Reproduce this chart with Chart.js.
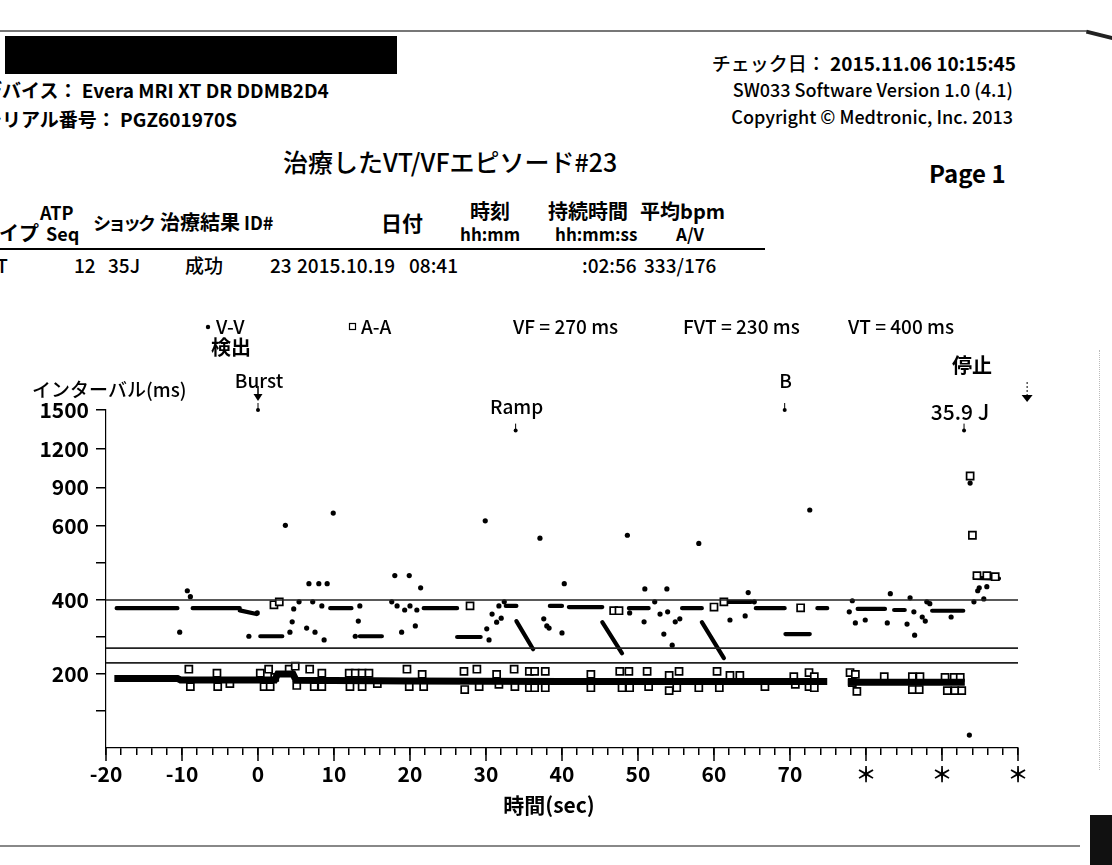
<!DOCTYPE html>
<html>
<head>
<meta charset="utf-8">
<script src="https://cdn.jsdelivr.net/npm/chart.js@4.4.1/dist/chart.umd.min.js"></script>
<style>
  body { margin: 0; background: #fff; width: 1112px; height: 865px; overflow: hidden; position: relative; font-family: 'Noto Sans CJK JP', sans-serif; color: #000; }
  .t { position: absolute; white-space: nowrap; line-height: 1; }
  .b { font-weight: 700; }
  .m { font-weight: 500; }
  #chart { position: absolute; left: 0; top: 0; }
</style>
</head>
<body>
<!-- scan edges -->
<div style="position:absolute;left:0;top:30px;width:1088px;height:2px;background:#777"></div>
<div style="position:absolute;left:1086px;top:33px;width:28px;height:4px;background:#222;transform:rotate(14deg)"></div>
<div style="position:absolute;left:0;top:845px;width:1080px;height:2px;background:#888"></div>
<div style="position:absolute;left:1090px;top:815px;width:22px;height:50px;background:#111"></div>
<div style="position:absolute;left:1099px;top:350px;width:1px;height:420px;border-left:1px dotted #bbb"></div>

<!-- header -->
<div style="position:absolute;left:5px;top:36px;width:392px;height:38px;background:#000"></div>
<div class="t b" style="left:-17px;top:80px;font-size:19px">デバイス：&nbsp;Evera MRI XT DR DDMB2D4</div>
<div class="t b" style="left:-17px;top:109px;font-size:19px">シリアル番号：&nbsp;PGZ601970S</div>
<div class="t" style="right:96px;top:53px;font-size:19px"><span class="m">チェック日：&nbsp;</span><span class="b">2015.11.06 10:15:45</span></div>
<div class="t m" style="right:99px;top:80px;font-size:18px">SW033 Software Version 1.0 (4.1)</div>
<div class="t m" style="right:99px;top:107px;font-size:18px">Copyright © Medtronic, Inc. 2013</div>
<div class="t m" style="left:283px;top:149px;font-size:25px">治療したVT/VFエピソード#23</div>
<div class="t b" style="left:929px;top:161px;font-size:24px">Page 1</div>

<!-- episode table -->
<div class="t b" style="left:-21px;top:223px;font-size:20px">タイプ</div>
<div class="t b" style="left:40px;top:203px;font-size:18px">ATP</div>
<div class="t b" style="left:46px;top:224px;font-size:18px">Seq</div>
<div class="t b" style="left:93px;top:213px;font-size:18px;letter-spacing:-3px">ショック</div>
<div class="t b" style="left:160px;top:212px;font-size:20px">治療結果</div>
<div class="t b" style="left:244px;top:213px;font-size:18px">ID#</div>
<div class="t b" style="left:381px;top:212px;font-size:21px">日付</div>
<div class="t b" style="left:470px;top:201px;font-size:20px">時刻</div>
<div class="t b" style="left:460px;top:225px;font-size:17px">hh:mm</div>
<div class="t b" style="left:548px;top:201px;font-size:20px">持続時間</div>
<div class="t b" style="left:555px;top:225px;font-size:17px">hh:mm:ss</div>
<div class="t b" style="left:640px;top:201px;font-size:20px">平均bpm</div>
<div class="t b" style="left:676px;top:225px;font-size:17px">A/V</div>
<div style="position:absolute;left:0;top:248px;width:765px;height:2px;background:#000"></div>
<div class="t m" style="left:-15px;top:255px;font-size:19px">VT</div>
<div class="t m" style="left:74px;top:255px;font-size:19px">12</div>
<div class="t m" style="left:108px;top:255px;font-size:19px">35J</div>
<div class="t m" style="left:185px;top:255px;font-size:19px">成功</div>
<div class="t m" style="left:270px;top:255px;font-size:19px">23</div>
<div class="t m" style="left:297px;top:255px;font-size:19px">2015.10.19</div>
<div class="t m" style="left:409px;top:255px;font-size:19px">08:41</div>
<div class="t m" style="left:582px;top:255px;font-size:19px">:02:56</div>
<div class="t m" style="left:644px;top:255px;font-size:19px">333/176</div>

<canvas id="chart" width="1112" height="865"></canvas>

<script>
// ---- data (time in s, interval in ms) ----
const xTickValues = [-20, -10, 0, 10, 20, 30, 40, 50, 60, 70, 80, 90, 100];
const xTickLabels = ['-20', '-10', '0', '10', '20', '30', '40', '50', '60', '70', '＊', '＊', '＊'];
const yTickValues = [100, 200, 300, 400, 500, 600, 900, 1200, 1500];
const yTickLabels = ['', '200', '', '400', '', '600', '900', '1200', '1500'];

const zoneNames = ['VF', 'FVT', 'VT'];
const zoneMs = [270, 230, 400];

// single V-V intervals
const vvPoints = [
    [-10.3, 313], [-9.3, 425], [-8.9, 409], [-1.2, 302], [-0.1, 365],
    [3.6, 605], [4.2, 313], [4.5, 341], [4.7, 376], [5.4, 395], [6.4, 324], [6.7, 444],
    [7.2, 395], [7.5, 313], [8.0, 444], [8.4, 384], [8.7, 292], [9.1, 444], [9.9, 700],
    [12.8, 302], [13.2, 343], [13.4, 384],
    [17.6, 395], [18.0, 466], [18.3, 384], [18.9, 313], [19.3, 373], [19.9, 466], [20.0, 384],
    [20.7, 330], [20.9, 373], [21.4, 433],
    [29.9, 640], [30.1, 322], [30.4, 292], [30.8, 362], [31.4, 340], [31.7, 384], [32.0, 351], [32.4, 395],
    [37.1, 567], [37.6, 349], [38.0, 330], [38.3, 324], [40.0, 311], [40.3, 444],
    [48.6, 575], [48.9, 365], [50.8, 341], [50.9, 430], [52.2, 395], [52.9, 362], [53.4, 308],
    [53.8, 430], [53.9, 368], [54.5, 278], [54.9, 341], [55.5, 349], [58.0, 553],
    [62.1, 346], [64.1, 357], [64.5, 420], [65.3, 395], [72.6, 724],
    [77.8, 368], [78.2, 398], [78.6, 338], [79.9, 346], [82.8, 338], [83.2, 417],
    [85.4, 335], [85.8, 406], [86.3, 368], [86.4, 305], [87.4, 354], [87.8, 343], [88.0, 395], [88.4, 390],
    [91.2, 354], [93.6, 35], [93.7, 933], [94.2, 395], [94.7, 425], [94.9, 433], [95.5, 403], [95.9, 436]
];

// runs of closely spaced V-V beats, [t0, ms0, t1, ms1]
const vvRuns = [
    [-18.6, 378, -10.6, 378], [-8.6, 378, -2.4, 378], [-2.4, 372, -0.2, 362], [0.3, 302, 3.2, 302],
    [9.5, 378, 12.3, 378], [13.4, 302, 16.3, 302], [21.8, 378, 26.2, 378], [26.2, 300, 29.3, 300],
    [32.6, 384, 34.0, 384], [38.4, 384, 40.0, 384], [40.9, 381, 45.3, 381], [48.8, 378, 51.4, 378],
    [55.8, 378, 58.4, 378], [61.6, 395, 64.9, 395], [65.5, 378, 69.3, 378], [69.4, 308, 72.6, 308],
    [73.6, 378, 74.9, 378], [78.9, 376, 82.5, 376], [83.7, 373, 85.1, 373], [88.7, 371, 92.8, 371],
    [94.3, 460, 97.5, 458]
];
// Ramp ATP sequences
const rampRuns = [
    [34.0, 343, 36.2, 267], [45.3, 340, 47.9, 256], [58.4, 340, 61.3, 243]
];

// dense A-A band
const aaBand = [
    [-18.9, 188], [-10.6, 188], [-10.2, 184], [2.2, 184], [2.6, 200], [4.6, 200], [5.0, 183],
    [20, 181], [40, 180], [60, 180], [74.9, 180], null,
    [77.6, 178], [93.0, 178]
];

// single A-A intervals
const aaPoints = [
    [-9.1, 213], [-8.9, 166], [-5.4, 202], [-5.3, 166], [-3.7, 174],
    [0.3, 202], [1.4, 213], [0.8, 166], [1.6, 166], [2.2, 191], [2.1, 387], [2.8, 395],
    [4.1, 213], [4.9, 221], [5.1, 169], [6.8, 213], [7.4, 166], [8.4, 166], [8.4, 202],
    [12.0, 202], [12.8, 202], [13.7, 202], [14.6, 202], [12.1, 166], [13.7, 166], [15.7, 174],
    [19.6, 213], [19.9, 166], [21.6, 199], [21.8, 166],
    [27.1, 207], [28.8, 213], [27.2, 158], [29.1, 166], [27.9, 384], [31.4, 199], [31.7, 172],
    [33.7, 213], [33.8, 166], [35.7, 207], [36.4, 207], [35.7, 163], [36.4, 163], [37.8, 207], [37.8, 163],
    [43.8, 199], [43.8, 163], [46.8, 371], [47.5, 371], [47.6, 207], [48.8, 207], [47.9, 163], [48.9, 163],
    [51.2, 207], [51.4, 166], [54.1, 196], [55.4, 207], [54.1, 155], [55.1, 163], [58.0, 163],
    [60.0, 381], [60.4, 207], [60.7, 163], [61.3, 395], [62.1, 196], [63.4, 196], [66.7, 166],
    [70.5, 193], [70.7, 172], [71.4, 379], [72.5, 204], [73.2, 193], [72.5, 166], [73.2, 163],
    [77.9, 204], [78.6, 199], [78.2, 177], [78.8, 153], [82.4, 193],
    [86.1, 193], [87.1, 193], [86.1, 158], [87.0, 158],
    [90.4, 191], [91.6, 191], [92.4, 191], [90.7, 155], [91.7, 155], [92.6, 155],
    [93.7, 988], [94.0, 575], [94.6, 466], [95.9, 466], [97.0, 463]
];

// therapy / event markers
const markerLabels = ['Burst', 'Ramp', 'B', '35.9 J'];
const markerTimes = [0, 33.9, 69.3, 92.9];
const markerMs = [1500, 1340, 1500, 1340];
const detectTime = 0;
const stopTime = 101.2;

// ---- piecewise interval axis: 0-600 ms expanded, 600-1500 ms compressed ----
const LOW_FRAC = 222 / 338;
class IntervalScale extends Chart.LinearScale {
    getPixelForValue(v) {
        if (v === null || v === undefined || isNaN(v)) return NaN;
        const d = v <= 600 ? v / 600 * LOW_FRAC : LOW_FRAC + (v - 600) / 900 * (1 - LOW_FRAC);
        return this.getPixelForDecimal(d);
    }
    getValueForPixel(p) {
        const d = this.getDecimalForPixel(p);
        return d <= LOW_FRAC ? d / LOW_FRAC * 600 : 600 + (d - LOW_FRAC) / (1 - LOW_FRAC) * 900;
    }
}
IntervalScale.id = 'interval';
IntervalScale.defaults = Chart.LinearScale.defaults;
Chart.register(IntervalScale);

const toXY = p => p ? { x: p[0], y: p[1] } : { x: NaN, y: null };
const runsToData = runs => runs.flatMap(r => [{ x: r[0], y: r[1] }, { x: r[2], y: r[3] }, { x: NaN, y: null }]);

const FONT = "'Noto Sans CJK JP', sans-serif";

const overlay = {
    id: 'overlay',
    afterDraw(chart) {
        const { ctx, chartArea } = chart;
        const x = chart.scales.x, y = chart.scales.y;
        ctx.save();
        ctx.fillStyle = '#000';
        ctx.strokeStyle = '#000';

        // long ticks every 10 s
        ctx.lineWidth = 1.5;
        xTickValues.forEach(v => {
            const px = x.getPixelForValue(v);
            ctx.beginPath();
            ctx.moveTo(px, chartArea.bottom);
            ctx.lineTo(px, chartArea.bottom + 13);
            ctx.stroke();
        });

        const text = (s, px, py, size, weight, align) => {
            ctx.font = `${weight} ${size}px ${FONT}`;
            ctx.textAlign = align || 'left';
            ctx.textBaseline = 'alphabetic';
            ctx.fillText(s, px, py);
        };

        // legend row
        ctx.beginPath();
        ctx.arc(208, 327, 2.2, 0, Math.PI * 2);
        ctx.fill();
        text('V-V', 216, 334, 19, 500);
        ctx.lineWidth = 1.2;
        ctx.strokeRect(349.5, 323.5, 6, 6);
        text('A-A', 361, 334, 19, 500);
        const zoneLeft = [513, 683, 848];
        zoneNames.forEach((n, i) => text(`${n} = ${zoneMs[i]} ms`, zoneLeft[i], 334, 19, 500));

        // axis titles
        text('インターバル(ms)', 32, 397, 19, 500);
        text('時間(sec)', 549, 813, 21, 700, 'center');

        // detection
        const dx = x.getPixelForValue(detectTime);
        text('検出', dx - 47, 355, 20, 700);
        ctx.lineWidth = 1.5;
        ctx.beginPath();
        ctx.moveTo(dx, 386);
        ctx.lineTo(dx, 396);
        ctx.stroke();
        ctx.beginPath();
        ctx.moveTo(dx - 4.5, 394);
        ctx.lineTo(dx + 4.5, 394);
        ctx.lineTo(dx, 401);
        ctx.closePath();
        ctx.fill();

        // therapy markers
        markerLabels.forEach((lab, i) => {
            const px = x.getPixelForValue(markerTimes[i]);
            const py = y.getPixelForValue(markerMs[i]);
            const big = lab === '35.9 J';
            const ly = markerMs[i] >= 1500 ? py - 22 : (big ? py - 11 : py - 17);
            const lx = big ? px - 4 : px + 1;
            text(lab, lx, ly, big ? 21 : 19, 500, 'center');
            ctx.lineWidth = 1;
            ctx.beginPath();
            ctx.moveTo(px, py - 7);
            ctx.lineTo(px, py - 1);
            ctx.stroke();
            ctx.beginPath();
            ctx.arc(px, py, 2, 0, Math.PI * 2);
            ctx.fill();
        });

        // termination
        const sx = x.getPixelForValue(stopTime);
        text('停止', sx - 75, 373, 20, 700);
        ctx.lineWidth = 1;
        ctx.setLineDash([2, 2]);
        ctx.beginPath();
        ctx.moveTo(sx, 382);
        ctx.lineTo(sx, 395);
        ctx.stroke();
        ctx.setLineDash([]);
        ctx.beginPath();
        ctx.moveTo(sx - 5.5, 395);
        ctx.lineTo(sx + 5.5, 395);
        ctx.lineTo(sx, 402);
        ctx.closePath();
        ctx.fill();

        ctx.restore();
    }
};

new Chart(document.getElementById('chart'), {
    type: 'scatter',
    data: {
        datasets: [
            ...zoneMs.map((ms, i) => ({
                label: zoneNames[i],
                data: [{ x: -20, y: ms }, { x: 100, y: ms }],
                showLine: true,
                borderColor: '#222',
                borderWidth: 1.6,
                pointRadius: 0
            })),
            {
                label: 'A-A band',
                data: aaBand.map(toXY),
                showLine: true,
                borderColor: '#000',
                borderWidth: 7,
                borderCapStyle: 'butt',
                pointRadius: 0
            },
            {
                label: 'A-A',
                data: aaPoints.map(toXY),
                pointStyle: 'rect',
                pointRadius: 5,
                backgroundColor: '#fff',
                borderColor: '#000',
                borderWidth: 1.7
            },
            {
                label: 'V-V runs',
                data: runsToData(vvRuns.concat(rampRuns)),
                showLine: true,
                borderColor: '#000',
                borderWidth: 4.2,
                borderCapStyle: 'round',
                pointRadius: 0
            },
            {
                label: 'V-V',
                data: vvPoints.map(toXY),
                pointStyle: 'circle',
                pointRadius: 2.6,
                backgroundColor: '#000',
                borderWidth: 0
            }
        ]
    },
    options: {
        responsive: false,
        animation: false,
        events: [],
        layout: { padding: { left: 0, top: 410, right: 94, bottom: 67 } },
        plugins: {
            legend: { display: false },
            tooltip: { enabled: false }
        },
        scales: {
            x: {
                type: 'linear',
                min: -20,
                max: 100,
                afterFit: s => { s.height = 50; },
                border: { display: true, color: '#000', width: 1.2, dash: [2, 2] },
                grid: { drawOnChartArea: false, drawTicks: true, tickLength: 7, color: '#000', lineWidth: 1.5 },
                ticks: {
                    stepSize: 2,
                    autoSkip: false,
                    maxRotation: 0,
                    padding: 6,
                    color: '#000',
                    font: { family: FONT, size: 21, weight: '700' },
                    callback: v => {
                        const i = xTickValues.indexOf(Math.round(v));
                        return i >= 0 && Math.abs(v - Math.round(v)) < 1e-6 ? xTickLabels[i] : '';
                    }
                }
            },
            y: {
                type: 'interval',
                min: 0,
                max: 1500,
                afterFit: s => { s.width = 106; },
                afterBuildTicks: s => { s.ticks = yTickValues.map(v => ({ value: v })); },
                border: { display: true, color: '#000', width: 1.2, dash: [2, 2] },
                grid: { drawOnChartArea: false, drawTicks: true, tickLength: 10, color: '#000', lineWidth: 1.5 },
                ticks: {
                    autoSkip: false,
                    padding: 7,
                    color: '#000',
                    font: { family: FONT, size: 21, weight: '700' },
                    callback: v => yTickLabels[yTickValues.indexOf(v)]
                }
            }
        }
    },
    plugins: [overlay]
});
</script>
</body>
</html>
